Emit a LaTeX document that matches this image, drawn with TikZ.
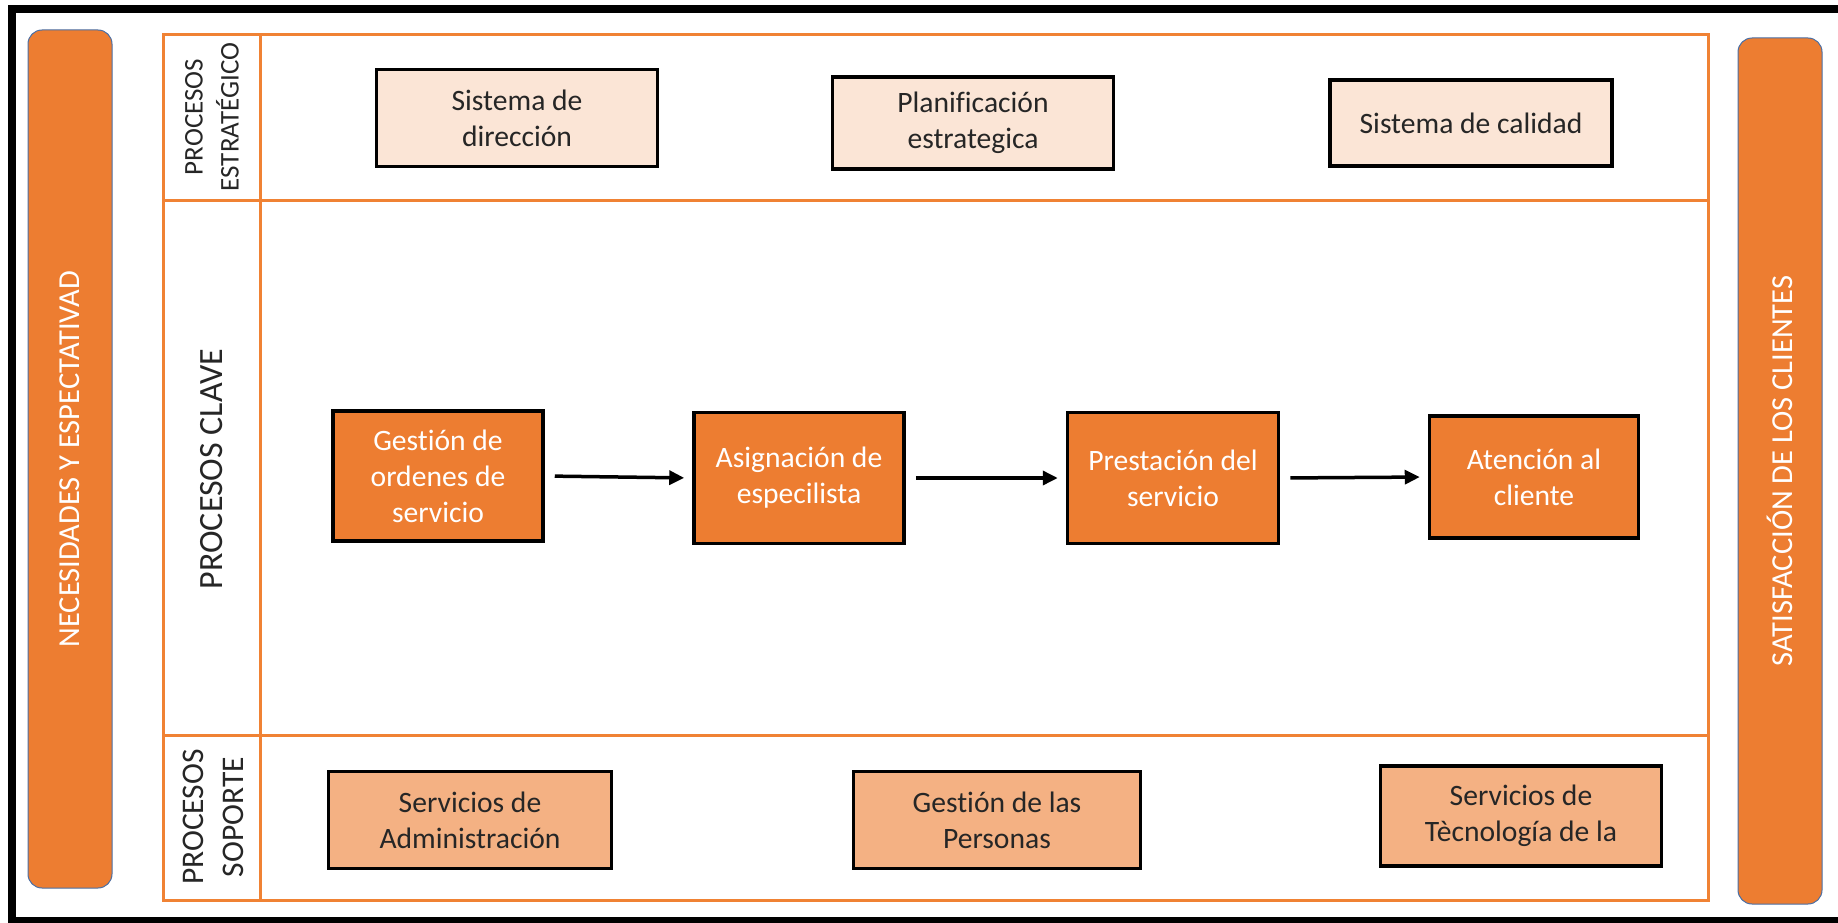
\documentclass[tikz,border=0pt]{standalone}
\usepackage{fontspec}
\setmainfont{Carlito}[Ligatures=NoCommon]
\usetikzlibrary{arrows.meta}
\definecolor{accent}{HTML}{ED7D31}
\definecolor{lane}{HTML}{F08234}
\definecolor{peach}{HTML}{FBE5D6}
\definecolor{apricot}{HTML}{F4B183}
\definecolor{barline}{HTML}{4A6FA5}
\definecolor{ink}{HTML}{262626}
\begin{document}
\begin{tikzpicture}[x=1pt,y=-1pt,
  procbox/.style={draw=black,line width=3.5pt,align=center,inner sep=0pt,
    font=\fontsize{29.6}{36}\selectfont},
  stratbox/.style={procbox,fill=peach,text=ink},
  keybox/.style={procbox,fill=accent,text=white},
  supbox/.style={procbox,fill=apricot,text=ink},
  lanelabel/.style={rotate=90,align=center,inner sep=0pt,text=ink},
  sidebar/.style={rotate=90,draw=barline,line width=1pt,fill=accent,rounded corners=14pt,
    text=white,inner sep=0pt,font=\fontsize{30.5}{36}\selectfont},
  flow/.style={-{Triangle[length=15pt,width=14pt]},line width=3.5pt,shorten <=10pt,shorten >=8pt},
  laneline/.style={draw=lane,line width=3pt}
]
\useasboundingbox (0,0) rectangle (1838,923);
\fill[white] (0,0) rectangle (1838,923);

% outer frame
\draw[line width=8pt] (12,9) rectangle (1850,921);

% side bars
\node[sidebar,minimum width=858pt,minimum height=84pt] (needs) at (70,459) {NECESIDADES Y ESPECTATIVAD};
\node[sidebar,minimum width=866pt,minimum height=84pt] (satis) at (1780,471) {SATISFACCIÓN DE LOS CLIENTES};

% lanes
\draw[laneline] (163,35) rectangle (1708,900);
\draw[laneline] (260,35) -- (260,900);
\draw[laneline] (163,200) -- (1708,200);
\draw[laneline] (163,735) -- (1708,735);

\node[lanelabel,font=\fontsize{27}{36}\selectfont] (lstrat) at (212,117) {PROCESOS\\ESTRATÉGICO};
\node[lanelabel,font=\fontsize{34}{36}\selectfont] (lkey) at (212,469) {PROCESOS CLAVE};
\node[lanelabel,font=\fontsize{31.5}{40}\selectfont] (lsup) at (213,817) {PROCESOS\\SOPORTE};

% strategic processes
\node[stratbox,minimum width=281pt,minimum height=97pt] (dir) at (517,118) {Sistema de\\dirección};
\node[stratbox,minimum width=281pt,minimum height=92pt] (plan) at (973,123) {Planificación\\estrategica};
\node[stratbox,minimum width=282pt,minimum height=86pt] (cal) at (1471,123) {Sistema de calidad};

% key processes
\node[keybox,minimum width=210pt,minimum height=130pt] (gest) at (438,476) {Gestión de\\ordenes de\\servicio};
\node[keybox,minimum width=210pt,minimum height=131pt] (asig) at (799,478) {Asignación de\\especilista};
\node[keybox,minimum width=211pt,minimum height=131pt] (prest) at (1173,478) {Prestación del\\servicio};
\node[keybox,minimum width=209pt,minimum height=122pt] (aten) at (1534,477) {Atención al\\cliente};

\draw[flow] (gest.east) -- (asig.west);
\draw[flow] (asig.east) -- (prest.west);
\draw[flow] (prest.east) -- (aten.west);

% support processes
\node[supbox,minimum width=283pt,minimum height=97pt] (adm) at (470,820) {Servicios de\\Administración};
\node[supbox,minimum width=287pt,minimum height=97pt] (pers) at (997,820) {Gestión de las\\Personas};
\node[supbox,minimum width=281pt,minimum height=100pt] (tec) at (1521,816) {Servicios de\\Tècnología de la};
\end{tikzpicture}
\end{document}
